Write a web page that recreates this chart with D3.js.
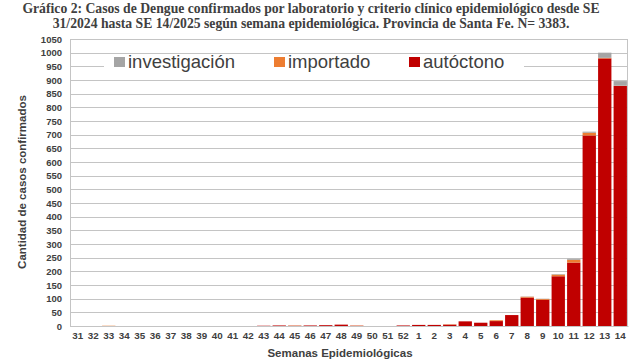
<!DOCTYPE html>
<html><head><meta charset="utf-8">
<script src="https://cdn.jsdelivr.net/npm/d3@7"></script>
<style>body{margin:0;background:#fff;}svg{display:block;}</style>
</head><body>
<svg id="c" width="642" height="361"></svg>
<script>
const weeks = ["31","32","33","34","35","36","37","38","39","40","41","42","43","44","45","46","47","48","49","50","51","52","1","2","3","4","5","6","7","8","9","10","11","12","13","14"];
const autoctono =     [0,0,0,0,0,0,0,0,0,0,0,0,1,2,1,2,3,5,1,0,0,2,4,4,5,17,12,18,40,104,96,182,232,697,979,878];
const importado =     [0,0,1,0,0,0,0,0,0,0,0,0,0,0,1,0,0,0,1,0,0,0,0,0,1,0,0,3,0,3,3,6,10,10,2,1];
const investigacion = [0,0,0,0,0,0,0,0,0,0,0,0,0,0,0,0,0,0,0,0,0,0,0,0,0,0,0,0,0,1,1,2,4,4,19,17];
const yTicks = d3.range(0, 1051, 50);
const seriesNames = ["autóctono","importado","investigación"];
const colors = {"autóctono":"#C00000","importado":"#ED7D31","investigación":"#A5A5A5"};
const titleLines = ["Gráfico 2: Casos de Dengue confirmados por laboratorio y criterio clínico epidemiológico desde SE",
                    "31/2024 hasta SE 14/2025 según semana epidemiológica. Provincia de Santa Fe. N= 3383."];

const svg = d3.select("#c");
const m = {l:70, r:628, t:39, b:326};
const x = d3.scaleBand().domain(weeks).range([m.l, m.r]).paddingInner(0.14).paddingOuter(0.07);
const y = d3.scaleLinear().domain([0,1050]).range([m.b, m.t]);

// title
svg.append("g").selectAll("text").data(titleLines).join("text")
  .attr("x", 311).attr("y", (d,i)=>13+i*14.5).attr("text-anchor","middle")
  .attr("font-family","'Liberation Serif','Times New Roman',serif").attr("font-weight","bold")
  .attr("font-size", 13.7).attr("fill","#404040").text(d=>d);

// gridlines
svg.append("g").selectAll("line").data(yTicks).join("line")
  .attr("x1", m.l).attr("x2", m.r).attr("y1", d=>Math.round(y(d))+0.5).attr("y2", d=>Math.round(y(d))+0.5)
  .attr("stroke","#c4c4c4").attr("stroke-width",1);
svg.append("line").attr("x1",m.l+0.5).attr("x2",m.l+0.5).attr("y1",m.t).attr("y2",m.b).attr("stroke","#c4c4c4");
svg.append("line").attr("x1",m.r-0.5).attr("x2",m.r-0.5).attr("y1",m.t).attr("y2",m.b).attr("stroke","#c4c4c4");

// stacked bars
const rows = weeks.map((w,i)=>({week:w, "autóctono":autoctono[i], "importado":importado[i], "investigación":investigacion[i]}));
const stack = d3.stack().keys(seriesNames)(rows);
svg.append("g").selectAll("g").data(stack).join("g").attr("fill", d=>colors[d.key])
  .selectAll("rect").data(d=>d).join("rect")
  .attr("x", d=>x(d.data.week)).attr("width", x.bandwidth())
  .attr("y", d=>y(d[1])).attr("height", d=>Math.max(0, y(d[0])-y(d[1])));

// y axis
const ya = svg.append("g").attr("transform",`translate(${m.l},0)`)
  .call(d3.axisLeft(y).tickValues(yTicks).tickFormat(d3.format("d")).tickSize(0).tickPadding(8));
ya.select(".domain").remove();
ya.selectAll("text").attr("font-family","'Liberation Sans',Arial,sans-serif").attr("font-weight","bold")
  .attr("font-size",9.5).attr("fill","#404040");

// x axis
const xa = svg.append("g").attr("transform",`translate(0,${m.b})`)
  .call(d3.axisBottom(x).tickSize(0).tickPadding(6));
xa.select(".domain").attr("stroke","#c4c4c4");
xa.selectAll("text").attr("font-family","'Liberation Sans',Arial,sans-serif").attr("font-weight","bold")
  .attr("font-size",9.8).attr("fill","#404040");

// axis titles
svg.append("text").attr("x",340).attr("y",357).attr("text-anchor","middle")
  .attr("font-family","'Liberation Sans',Arial,sans-serif").attr("font-weight","bold").attr("font-size",11.5)
  .attr("fill","#404040").text("Semanas Epidemiológicas");
svg.append("text").attr("transform","translate(26,182) rotate(-90)").attr("text-anchor","middle")
  .attr("font-family","'Liberation Sans',Arial,sans-serif").attr("font-weight","bold").attr("font-size",11.5)
  .attr("fill","#404040").text("Cantidad de casos confirmados");

// legend
const leg = svg.append("g");
leg.append("rect").attr("x",104).attr("y",55).attr("width",420).attr("height",21).attr("fill","#fff");
const legItems = [{k:"investigación", x:114},{k:"importado", x:274},{k:"autóctono", x:409}];
const li = leg.selectAll("g.li").data(legItems).join("g").attr("class","li").attr("transform",d=>`translate(${d.x},0)`);
li.append("rect").attr("x",0).attr("y",57).attr("width",11).attr("height",10).attr("fill",d=>colors[d.k]);
li.append("text").attr("x",14).attr("y",67.5).attr("font-family","'Liberation Sans',Arial,sans-serif")
  .attr("font-size",18.5).attr("fill","#404040").text(d=>d.k);
</script>
</body></html>
